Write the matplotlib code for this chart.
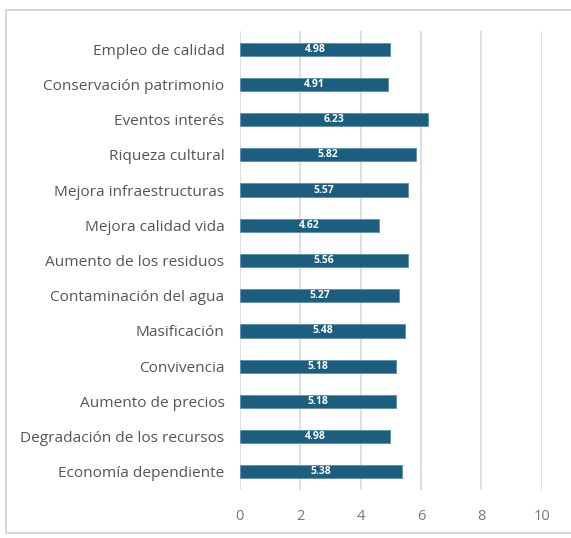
import matplotlib.pyplot as plt
from matplotlib.patches import Rectangle

categories = ['Economía dependiente', 'Degradación de los recursos', 'Aumento de precios',
              'Convivencia', 'Masificación', 'Contaminación del agua',
              'Aumento de los residuos', 'Mejora calidad vida', 'Mejora infraestructuras',
              'Riqueza cultural', 'Eventos interés', 'Conservación patrimonio',
              'Empleo de calidad']
values = [5.38, 4.98, 5.18, 5.18, 5.48, 5.27, 5.56, 4.62, 5.57, 5.82, 6.23, 4.91, 4.98]
xticks = [0, 2, 4, 6, 8, 10]

BAR = '#1b5e80'
GREY = '#555555'

fig = plt.figure(figsize=(5.71, 5.38), dpi=100)
fig.patches.append(Rectangle((6 / 571, 5 / 538), 570 / 571, 523 / 538,
                             transform=fig.transFigure, fill=False,
                             edgecolor='#d0d0d0', linewidth=1.2))
ax = fig.add_axes([0.420, 0.090, 0.529, 0.8516])

y = range(len(categories))
ax.barh(y, values, height=0.37, color=BAR, edgecolor='#5f8fa8', linewidth=0.6, zorder=3)
for yi, v in zip(y, values):
    ax.text(v / 2, yi, f'{v:.2f}', color='white', fontsize=7.5, fontweight='bold',
            ha='center', va='center', family='Open Sans', zorder=4)

ax.set_xlim(0, 10)
ax.set_ylim(-0.5, len(categories) - 0.5)
ax.set_xticks(xticks)
ax.set_yticks(list(y))
ax.set_yticklabels(categories, family='Open Sans', fontsize=11.1, color=GREY)
ax.tick_params(axis='x', labelsize=10.5, labelcolor='#777777', length=0, pad=14)
ax.tick_params(axis='y', length=0, pad=11)
for lbl in ax.get_xticklabels():
    lbl.set_family('Open Sans')
ax.grid(axis='x', color='#d9d9d9', linewidth=1.2, zorder=0)
for s in ax.spines.values():
    s.set_visible(False)

fig.savefig('out.png', dpi=100)
